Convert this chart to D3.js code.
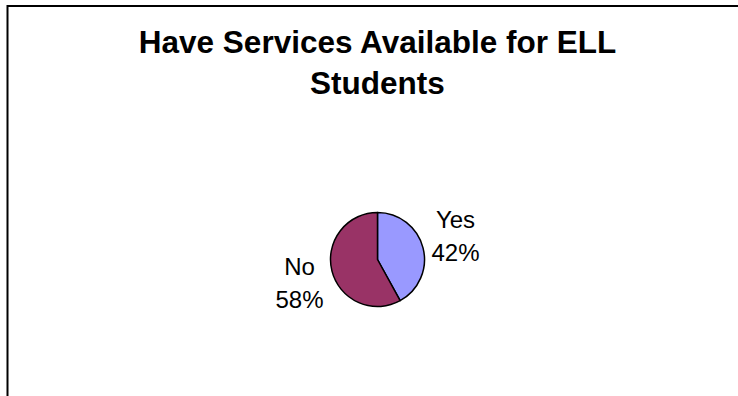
<!DOCTYPE html>
<html>
<head>
<meta charset="utf-8">
<script src="https://cdn.jsdelivr.net/npm/d3@7"></script>
<style>
  html, body { margin: 0; padding: 0; background: #fff; }
  svg { display: block; }
</style>
</head>
<body>
<svg id="chart" width="738" height="396"></svg>
<script>
// Survey result: schools that have services available for ELL students
const titleLines = ["Have Services Available for ELL", "Students"];
const categories = ["Yes", "No"];
const values = [42, 58];
const sliceColors = ["#9999FF", "#993366"];

const W = 738, H = 396;
const svg = d3.select("#chart");

// Chart area frame (continues past the right and bottom of the window)
svg.append("rect")
  .attr("x", 7.5).attr("y", 6)
  .attr("width", W + 20).attr("height", H + 20)
  .attr("fill", "#fff")
  .attr("stroke", "#000")
  .attr("stroke-width", 2);

const cx = 377.5, cy = 259.5, radius = 47;

// Title
const title = svg.append("text")
  .attr("text-anchor", "middle")
  .attr("font-family", "Arial, 'Liberation Sans', sans-serif")
  .attr("font-weight", "bold")
  .attr("font-size", 31.5)
  .attr("fill", "#000");
title.selectAll("tspan")
  .data(titleLines)
  .join("tspan")
  .attr("x", cx)
  .attr("y", (d, i) => 53 + i * 41)
  .text(d => d);

// Pie
const data = categories.map((c, i) => ({ category: c, value: values[i], color: sliceColors[i] }));
const pie = d3.pie().value(d => d.value).sort(null).startAngle(0).endAngle(2 * Math.PI);
const arcs = pie(data);
const arc = d3.arc().innerRadius(0).outerRadius(radius);

const g = svg.append("g").attr("transform", `translate(${cx},${cy})`);
g.selectAll("path")
  .data(arcs)
  .join("path")
  .attr("d", arc)
  .attr("fill", d => d.data.color)
  .attr("stroke", "#000")
  .attr("stroke-width", 1.5)
  .attr("stroke-linejoin", "round");

// Category / percentage labels outside each slice
const total = d3.sum(values);
const labelRx = 80.5, labelRy = 96;
const labels = g.selectAll("g.lbl")
  .data(arcs)
  .join("g")
  .attr("class", "lbl")
  .attr("transform", d => {
    const a = (d.startAngle + d.endAngle) / 2;
    return `translate(${labelRx * Math.sin(a)},${-labelRy * Math.cos(a)})`;
  });

const lt = labels.append("text")
  .attr("text-anchor", "middle")
  .attr("font-family", "Arial, 'Liberation Sans', sans-serif")
  .attr("font-size", 24)
  .attr("fill", "#000");
lt.append("tspan").attr("x", 0).attr("y", -8).text(d => d.data.category);
lt.append("tspan").attr("x", 0).attr("y", 25)
  .text(d => Math.round(d.data.value / total * 100) + "%");
</script>
</body>
</html>
